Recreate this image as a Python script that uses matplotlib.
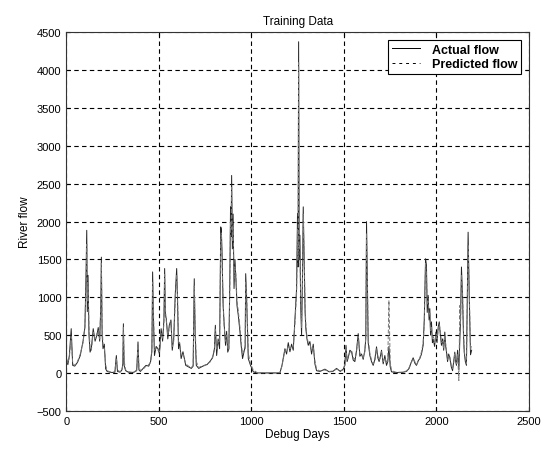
import numpy as np
from matplotlib import pyplot as plt

plt.rcParams['font.family'] = ['Liberation Sans', 'DejaVu Sans']

# values (day, flow)
days = [0, 8, 16, 26, 34, 45, 60, 75, 90, 100,
        106, 110, 113, 117, 122, 128, 135, 145, 155, 165,
        172, 180, 186, 189, 193, 198, 205, 212, 220, 235,
        250, 262, 270, 276, 290, 300, 305, 308, 312, 320,
        335, 350, 365, 380, 387, 392, 400, 415, 430, 445,
        455, 462, 466, 470, 476, 485, 495, 503, 512, 520,
        527, 531, 535, 540, 548, 556, 565, 572, 580, 588,
        596, 600, 606, 612, 620, 630, 645, 660, 675, 685,
        691, 696, 702, 715, 730, 745, 760, 775, 790, 800,
        805, 812, 820, 828, 834, 837, 841, 847, 853, 860,
        866, 872, 878, 883, 887, 890, 893, 897, 901, 906,
        911, 916, 922, 929, 938, 945, 952, 960, 966, 969,
        974, 983, 995, 1010, 1030, 1100, 1154, 1165, 1172, 1181,
        1190, 1199, 1208, 1217, 1226, 1235, 1244, 1249, 1252, 1255,
        1258, 1262, 1266, 1271, 1276, 1280, 1285, 1290, 1294, 1300,
        1307, 1316, 1325, 1334, 1343, 1352, 1370, 1397, 1420, 1440,
        1460, 1480, 1496, 1505, 1511, 1517, 1523, 1532, 1541, 1550,
        1559, 1568, 1577, 1586, 1595, 1604, 1613, 1618, 1622, 1626,
        1631, 1640, 1649, 1658, 1667, 1676, 1683, 1690, 1697, 1703,
        1712, 1721, 1730, 1737, 1743, 1750, 1757, 1780, 1810, 1838,
        1852, 1865, 1874, 1883, 1892, 1901, 1910, 1919, 1928, 1934,
        1938, 1941, 1946, 1950, 1955, 1960, 1964, 1968, 1973, 1978,
        1982, 1990, 1997, 2003, 2009, 2015, 2021, 2027, 2033, 2039,
        2045, 2050, 2054, 2060, 2066, 2072, 2080, 2087, 2093, 2099,
        2104, 2108, 2114, 2121, 2126, 2130, 2135, 2141, 2146, 2150,
        2156, 2162, 2166, 2171, 2177, 2184, 2190]

actual_flow = [200, 110, 230, 585, 100, 90, 140, 230, 420, 600,
               1300, 1885, 810, 1290, 500, 275, 330, 585, 420, 500,
               600, 420, 900, 1530, 500, 320, 380, 55, 20, 10,
               5, 10, 230, 20, 10, 40, 120, 650, 100, 30,
               10, 5, 10, 30, 410, 40, 20, 60, 100, 90,
               150, 300, 1335, 760, 230, 350, 320, 250, 585, 420,
               700, 1380, 760, 715, 450, 630, 700, 300, 450, 1030,
               1380, 1025, 320, 400, 190, 280, 100, 80, 60, 90,
               1245, 500, 100, 60, 80, 100, 110, 150, 200, 320,
               630, 230, 450, 320, 1930, 1907, 1620, 890, 630, 365,
               550, 275, 320, 1200, 2195, 1800, 2610, 1640, 2100, 1115,
               1500, 1245, 890, 760, 545, 350, 190, 280, 350, 1312,
               980, 190, 100, 15, 0, 0, 0, 100, 200, 320,
               250, 400, 280, 380, 300, 720, 1115, 2105, 1400, 4377,
               1500, 1820, 900, 500, 1300, 2195, 1470, 800, 585, 450,
               365, 415, 250, 380, 120, 30, 20, 50, 15, 20,
               60, 20, 50, 100, 365, 150, 200, 300, 280, 170,
               150, 300, 520, 220, 250, 180, 300, 450, 2000, 1310,
               400, 230, 150, 100, 180, 345, 200, 150, 220, 300,
               120, 230, 100, 150, 350, 80, 15, 5, 5, 20,
               60, 150, 200, 130, 100, 160, 190, 250, 365, 700,
               1200, 1510, 1420, 800, 1025, 700, 850, 500, 675, 400,
               450, 350, 540, 400, 600, 675, 500, 365, 450, 300,
               540, 350, 275, 150, 250, 200, 80, 30, 150, 275,
               150, 100, 300, 50, 400, 700, 1400, 1000, 500, 275,
               150, 100, 900, 1860, 1025, 240, 300]

predicted_flow = [180, 130, 210, 480, 130, 100, 150, 250, 400, 620,
                  1150, 1700, 950, 1200, 620, 320, 300, 540, 450, 520,
                  560, 450, 850, 1450, 650, 360, 340, 110, 30, 15,
                  10, 15, 200, 40, 15, 35, 100, 600, 160, 40,
                  15, 10, 10, 40, 370, 80, 30, 50, 90, 110,
                  140, 280, 1200, 820, 300, 330, 300, 280, 520, 460,
                  650, 1300, 850, 680, 500, 580, 680, 350, 420, 950,
                  1300, 1100, 420, 380, 230, 250, 120, 90, 70, 100,
                  1150, 620, 150, 70, 90, 95, 120, 140, 210, 300,
                  580, 300, 420, 400, 1750, 1850, 1500, 950, 600, 420,
                  500, 330, 300, 1100, 2000, 1900, 2450, 1750, 1950, 1250,
                  1400, 1300, 950, 820, 600, 400, 250, 300, 320, 1200,
                  1050, 260, 120, 40, 5, 0, 5, 90, 180, 300,
                  280, 360, 320, 350, 340, 650, 1050, 1900, 1500, 4100,
                  1650, 1700, 1000, 600, 1200, 2100, 1550, 900, 650, 480,
                  400, 380, 300, 350, 160, 50, 25, 40, 20, 25,
                  50, 30, 40, 120, 320, 180, 220, 270, 300, 200,
                  180, 280, 480, 260, 230, 200, 280, 500, 1850, 1400,
                  450, 260, 170, 120, 160, 320, 230, 170, 200, 280,
                  150, 200, 130, 180, 960, 150, 30, 10, 10, 25,
                  70, 140, 190, 150, 110, 150, 200, 280, 400, 650,
                  1100, 1450, 1300, 900, 950, 780, 800, 560, 620, 450,
                  480, 400, 500, 450, 560, 640, 550, 400, 420, 330,
                  500, 380, 300, 180, 230, 220, 100, 60, 130, 250,
                  180, 120, 250, -100, 890, 650, 1300, 1050, 550, 300,
                  180, 120, 800, 1700, 1100, 300, 380]

fig = plt.figure(figsize=(5.42, 4.52), dpi=100)
ax = fig.add_axes([0.1225, 0.089, 0.8535, 0.837])

ax.plot(days, actual_flow, '-', color='#222222', lw=0.7)
ax.plot(days, predicted_flow, '--', color='#777777', lw=0.7, dashes=(4, 2))

ax.set_xlim(0, 2500)
ax.set_ylim(-500, 4500)
ax.set_xticks(np.arange(0, 2501, 500))
ax.set_yticks(np.arange(-500, 4501, 500))
ax.tick_params(direction='in', labelsize=8, length=3, top=True, right=True)
ax.grid(True, color='black', linestyle=(0, (4, 3)), linewidth=0.8)
for s in ax.spines.values():
    s.set_color('#333333')

ax.set_title('Training Data', fontsize=8.5, pad=6)
ax.set_xlabel('Debug Days', fontsize=8.5, labelpad=2)
ax.set_ylabel('River flow', fontsize=8.5, labelpad=4)

leg = ax.legend(['Actual flow', 'Predicted flow'], loc='upper right',
                prop={'weight': 'bold', 'size': 9}, fancybox=False,
                framealpha=1, edgecolor='black', borderaxespad=0.6,
                handlelength=2.2, handletextpad=1.0, borderpad=0.3,
                labelspacing=0.2)
leg.get_frame().set_linewidth(0.8)
handles = leg.get_lines()
handles[0].set_color('black')
handles[1].set_color('black')
handles[1].set_dashes((3, 4))

fig.savefig('out.png', dpi=100)
